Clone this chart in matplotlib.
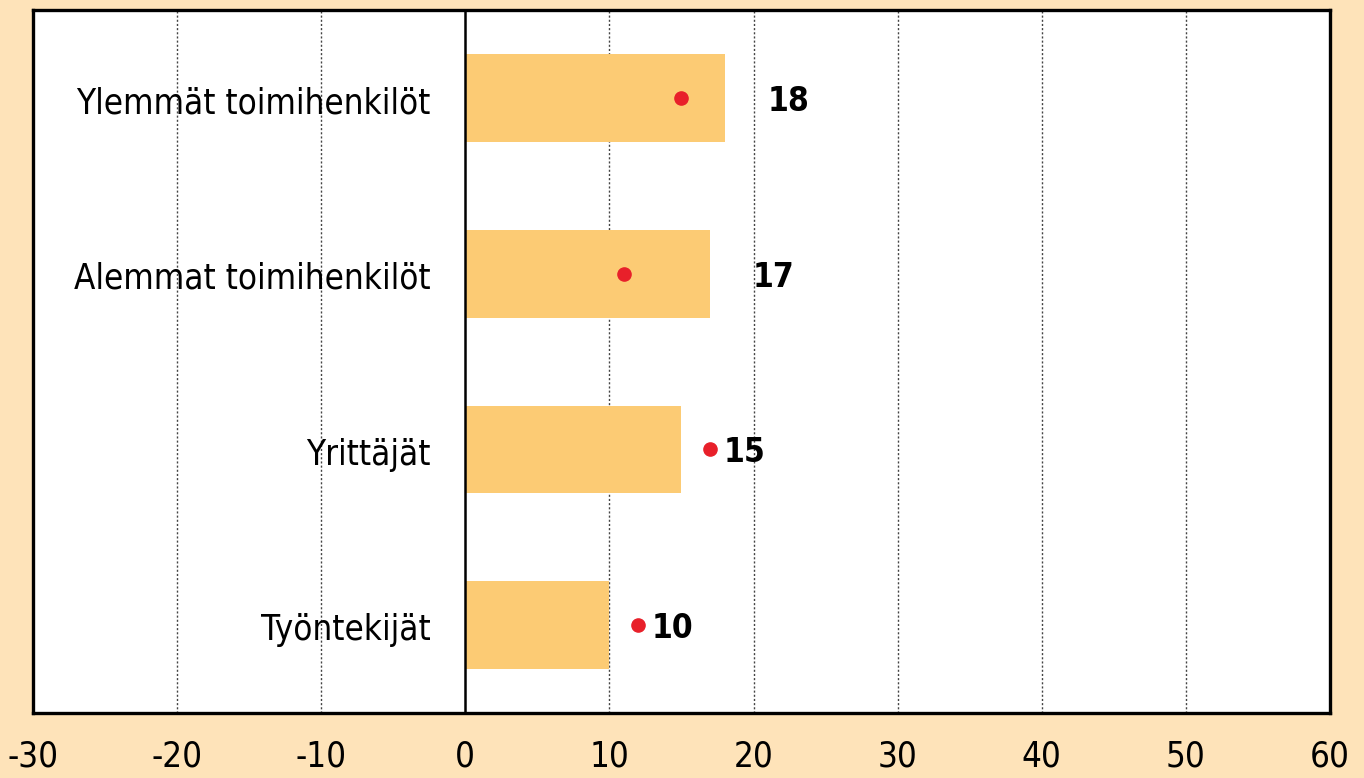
import matplotlib.pyplot as plt

# data
categories = ["Ylemmät toimihenkilöt", "Alemmat toimihenkilöt", "Yrittäjät", "Työntekijät"]
bar_values = [18, 17, 15, 10]
dot_values = [15, 11, 17, 12]
x_ticks = [-30, -20, -10, 0, 10, 20, 30, 40, 50, 60]

plt.rcParams['font.family'] = ['DejaVu Sans']
plt.rcParams['font.stretch'] = 'condensed'

bg = '#FEE3B9'
fig = plt.figure(figsize=(13.64, 7.78), dpi=100, facecolor=bg)
ax = fig.add_axes([0.0242, 0.0835, 0.9508, 0.9035])
ax.set_facecolor('white')

y = list(range(len(categories)))
ax.barh(y, bar_values, height=0.5, color='#FCCB74', zorder=2)
ax.plot(dot_values, y, 'o', color='#E8202A', markersize=9.5, zorder=3)

# arvojen tekstit palkkien oikealle puolelle
for yi, v in zip(y, bar_values):
    ax.text(v + 4.4, yi + 0.02, str(v), ha='center', va='center', fontstretch='condensed',
            fontsize=24, fontweight='bold', color='black', zorder=4)

for yi, c in zip(y, categories):
    ax.text(-2.4, yi + 0.03, c, ha='right', va='center', fontsize=25, fontstretch='condensed',
            color='black', zorder=4)

ax.set_xlim(-30, 60)
ax.set_ylim(3.5, -0.5)
ax.set_xticks(x_ticks)
ax.set_xticklabels([str(t) for t in x_ticks], fontsize=25, fontstretch='condensed')
ax.set_yticks([])
ax.tick_params(axis='x', length=0, pad=19)

for t in x_ticks:
    if t == 0:
        ax.axvline(0, color='black', lw=1.8, zorder=3)
    elif -30 < t < 60:
        ax.axvline(t, color='#444444', lw=1.0, linestyle=(0, (1.5, 1.5)), zorder=1)

for s in ax.spines.values():
    s.set_linewidth(2.4)
    s.set_color('black')

fig.savefig('out.png', dpi=100, facecolor=bg)
